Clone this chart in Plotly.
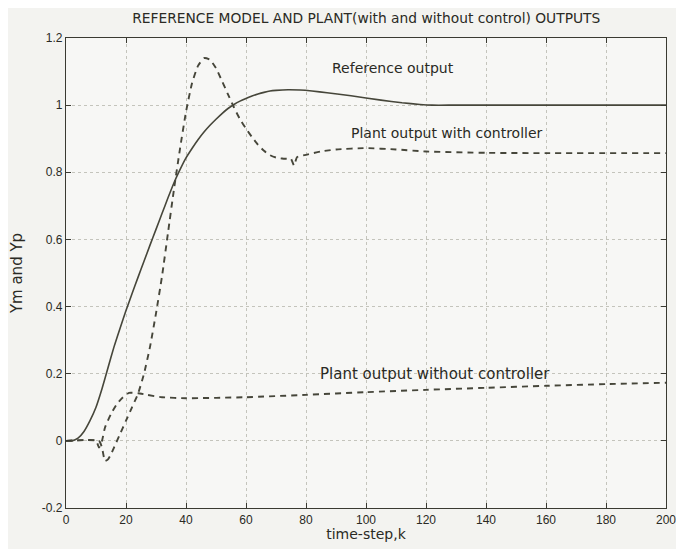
import plotly.graph_objects as go

# Reference model output (solid)
k_ref = [0, 2, 4, 6, 8, 10, 12, 14, 16, 18, 20, 22, 24, 26, 28, 30, 32, 34, 36, 38, 40,
         42, 44, 46, 48, 50, 52, 54, 56, 58, 60, 62, 64, 66, 68, 70, 74, 78, 82, 87, 95,
         105, 112, 118, 122, 130, 200]
y_ref = [0, 0, 0.008, 0.028, 0.06, 0.10, 0.155, 0.218, 0.28, 0.335, 0.388, 0.438, 0.487,
         0.535, 0.583, 0.63, 0.677, 0.724, 0.769, 0.808, 0.843, 0.871, 0.897, 0.92, 0.94,
         0.958, 0.975, 0.99, 1.002, 1.012, 1.02, 1.027, 1.033, 1.038, 1.042, 1.044, 1.046,
         1.045, 1.042, 1.037, 1.028, 1.015, 1.007, 1.002, 1.0, 1.0, 1.0]

# Plant output with controller (dashed)
k_with = [0, 11, 12, 13, 14, 15, 16, 17, 18, 20, 22, 24, 26, 28, 30, 32, 34, 36, 38, 40,
          42, 44, 46, 48, 50, 52, 54, 56, 58, 60, 62, 64, 66, 68, 70, 72, 74, 75, 76, 77,
          78, 80, 85, 90, 100, 110, 120, 140, 160, 200]
y_with = [0, 0, -0.02, -0.06, -0.055, -0.04, -0.02, 0.0, 0.02, 0.06, 0.10, 0.14, 0.20,
          0.28, 0.38, 0.49, 0.62, 0.75, 0.87, 0.98, 1.065, 1.117, 1.14, 1.135, 1.11, 1.072,
          1.032, 0.993, 0.958, 0.93, 0.905, 0.882, 0.864, 0.851, 0.844, 0.841, 0.84, 0.84,
          0.82, 0.845, 0.848, 0.852, 0.862, 0.868, 0.872, 0.868, 0.862, 0.858, 0.857, 0.857]

# Plant output without controller (dashed)
k_without = [0, 10, 11, 12, 13, 15, 17, 19, 21, 24, 27, 32, 40, 60, 80, 100, 120, 140, 160, 180, 200]
y_without = [0, 0, -0.02, 0.0, 0.04, 0.08, 0.11, 0.13, 0.143, 0.142, 0.137, 0.13, 0.127,
             0.13, 0.137, 0.145, 0.152, 0.158, 0.164, 0.169, 0.173]

x_ticks = [0, 20, 40, 60, 80, 100, 120, 140, 160, 180, 200]
y_ticks = [-0.2, 0, 0.2, 0.4, 0.6, 0.8, 1.0, 1.2]
y_tick_text = ["-0.2", "0", "0.2", "0.4", "0.6", "0.8", "1", "1.2"]

labels = ["Reference output", "Plant output with controller", "Plant output without controller"]
label_x = [109, 127, 123]
label_y = [1.11, 0.917, 0.2]
label_size = [14, 14, 15]

line_col = "#46463a"
txt_col = "#2a2a24"
font_fam = "Liberation Sans, Arial, sans-serif"
wide_fam = "DejaVu Sans, sans-serif"

fig = go.Figure()
fig.add_trace(go.Scatter(x=k_ref, y=y_ref, mode="lines",
                         line=dict(color=line_col, width=1.6, shape="spline", smoothing=0.5),
                         showlegend=False))
fig.add_trace(go.Scatter(x=k_with, y=y_with, mode="lines",
                         line=dict(color=line_col, width=1.9, dash="6px,5px", shape="spline", smoothing=0.5),
                         showlegend=False))
fig.add_trace(go.Scatter(x=k_without, y=y_without, mode="lines",
                         line=dict(color=line_col, width=1.9, dash="6px,5px", shape="spline", smoothing=0.5),
                         showlegend=False))

for t, x, y, s in zip(labels, label_x, label_y, label_size):
    fig.add_annotation(x=x, y=y, text=t, showarrow=False,
                       font=dict(family=wide_fam, size=s, color=txt_col))

axis_common = dict(
    showline=True, linecolor="#3a3a32", linewidth=1.2, mirror="ticks",
    ticks="inside", ticklen=5, tickcolor="#3a3a32", tickwidth=1.2,
    showgrid=True, gridcolor="#c4c4bc", griddash="dot", gridwidth=1,
    zeroline=False, automargin=False,
    tickfont=dict(family=font_fam, size=12, color=txt_col),
)

fig.update_xaxes(range=[0, 200], tickvals=x_ticks, ticktext=[str(v) for v in x_ticks],
                 title=dict(text="time-step,k", font=dict(family=wide_fam, size=14, color=txt_col), standoff=1),
                 **axis_common)
fig.update_yaxes(range=[-0.2, 1.2], tickvals=y_ticks, ticktext=y_tick_text,
                 title=dict(text="Ym and Yp", font=dict(family=wide_fam, size=15, color=txt_col), standoff=16),
                 **axis_common)

# the page body adds an 8px offset, so margins are reduced accordingly
fig.update_layout(
    width=676, height=541,
    margin=dict(l=58, r=18, t=30, b=41),
    paper_bgcolor="#f3f3f0", plot_bgcolor="#f7f7f5",
    title=dict(text="REFERENCE MODEL AND PLANT(with and without control) OUTPUTS",
               x=0.53, xanchor="center", y=0.982, yanchor="middle",
               font=dict(family=wide_fam, size=13.8, color=txt_col)),
)

fig.write_html("out.html")
